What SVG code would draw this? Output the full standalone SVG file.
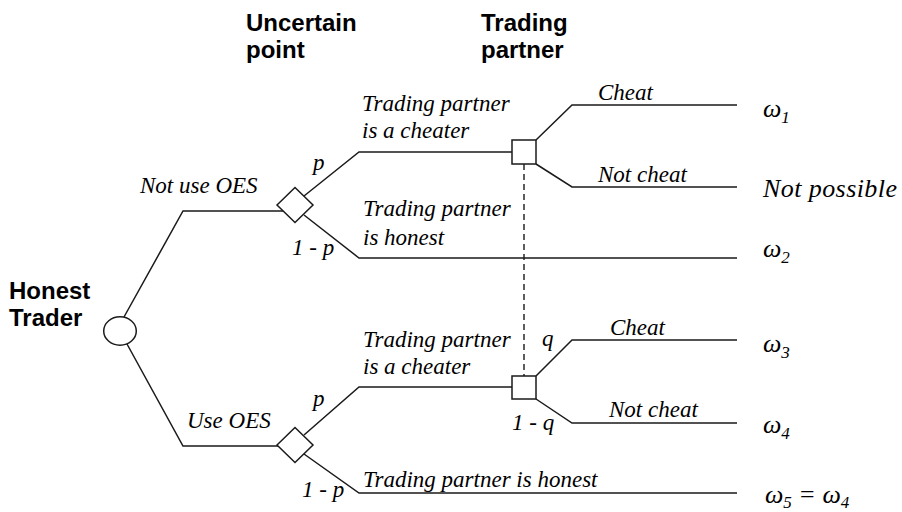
<svg xmlns="http://www.w3.org/2000/svg" width="902" height="512" viewBox="0 0 902 512">
  <style>
    .edge { fill: none; stroke: #1a1a1a; stroke-width: 1.5; }
    .info { fill: none; stroke: #1a1a1a; stroke-width: 1.4; stroke-dasharray: 6 4; }
    .node { fill: #ffffff; stroke: #1a1a1a; stroke-width: 1.5; }
    .head { font-family: "Liberation Sans", Arial, sans-serif; font-weight: bold; font-size: 24px; fill: #000; }
    .lbl { font-family: "Liberation Serif", "Times New Roman", serif; font-style: italic; font-size: 23px; fill: #000; }
    .pay { font-family: "Liberation Serif", "Times New Roman", serif; font-style: italic; font-size: 26px; fill: #000; }
    .sub { font-size: 17px; }
  </style>

  <!-- column headings -->
  <g id="headings">
    <text class="head" x="246" y="31">Uncertain</text>
    <text class="head" x="246" y="58">point</text>
    <text class="head" x="481" y="31">Trading</text>
    <text class="head" x="481" y="58">partner</text>
    <text class="head" x="9" y="299">Honest</text>
    <text class="head" x="9" y="326">Trader</text>
  </g>

  <!-- branches of the tree -->
  <g id="connectors">
    <!-- root to the two uncertain points -->
    <polyline class="edge" points="124,317 183,211 290,211"/>
    <polyline class="edge" points="127,344 183,446 290,446"/>
    <!-- upper uncertain point -->
    <polyline class="edge" points="304,196 359,152 520,152"/>
    <polyline class="edge" points="304,215 359,258 737,258"/>
    <!-- lower uncertain point -->
    <polyline class="edge" points="304,435 359,387 520,387"/>
    <polyline class="edge" points="304,454 359,493 737,493"/>
    <!-- upper trading partner decision -->
    <polyline class="edge" points="536,140 572,105 737,105"/>
    <polyline class="edge" points="536,164 572,187 737,187"/>
    <!-- lower trading partner decision -->
    <polyline class="edge" points="536,376 572,340 737,340"/>
    <polyline class="edge" points="536,399 572,423 737,423"/>
    <!-- information set -->
    <line class="info" x1="524" y1="164" x2="524" y2="376"/>
  </g>

  <!-- decision nodes -->
  <g id="honest-trader">
    <ellipse class="node" cx="120" cy="331" rx="16.3" ry="14.2"/>
  </g>
  <g id="uncertain-upper">
    <polygon class="node" points="277,205 295,187.5 313,205 295,222.5"/>
  </g>
  <g id="uncertain-lower">
    <polygon class="node" points="277,445 295,427.5 313,445 295,462.5"/>
  </g>
  <g id="partner-upper">
    <rect class="node" x="512" y="140" width="24" height="24"/>
  </g>
  <g id="partner-lower">
    <rect class="node" x="512" y="376" width="24" height="23"/>
  </g>

  <!-- branch labels -->
  <g id="labels">
    <text class="lbl" x="140" y="193">Not use OES</text>
    <text class="lbl" x="187" y="428">Use OES</text>

    <text class="lbl" x="313" y="170">p</text>
    <text class="lbl" x="292" y="255">1 - p</text>
    <text class="lbl" x="313" y="406">p</text>
    <text class="lbl" x="302" y="497">1 - p</text>

    <text class="lbl" x="362" y="111">Trading partner</text>
    <text class="lbl" x="362" y="138">is a cheater</text>
    <text class="lbl" x="363" y="216">Trading partner</text>
    <text class="lbl" x="363" y="245">is honest</text>
    <text class="lbl" x="363" y="347">Trading partner</text>
    <text class="lbl" x="363" y="374">is a cheater</text>
    <text class="lbl" x="363" y="487">Trading partner is honest</text>

    <text class="lbl" x="598" y="100">Cheat</text>
    <text class="lbl" x="598" y="182">Not cheat</text>
    <text class="lbl" x="610" y="335">Cheat</text>
    <text class="lbl" x="609" y="417">Not cheat</text>

    <text class="lbl" x="542" y="346">q</text>
    <text class="lbl" x="512" y="430">1 - q</text>
  </g>

  <!-- payoffs -->
  <g id="payoffs">
    <text class="pay" x="763" y="117">ω<tspan class="sub" dy="6">1</tspan></text>
    <text class="pay" x="763" y="197" textLength="134" lengthAdjust="spacing">Not possible</text>
    <text class="pay" x="763" y="257">ω<tspan class="sub" dy="6">2</tspan></text>
    <text class="pay" x="763" y="352">ω<tspan class="sub" dy="6">3</tspan></text>
    <text class="pay" x="763" y="433">ω<tspan class="sub" dy="6">4</tspan></text>
    <text class="pay" x="765" y="503">ω<tspan class="sub" dy="5">5</tspan><tspan dy="-5"> = </tspan>ω<tspan class="sub" dy="5">4</tspan></text>
  </g>
</svg>
